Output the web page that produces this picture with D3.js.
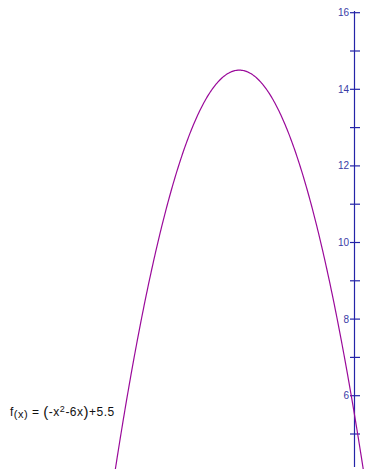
<!DOCTYPE html>
<html><head><meta charset="utf-8">
<script src="https://cdn.jsdelivr.net/npm/d3@7"></script>
<style>body{margin:0;background:#fff}svg{display:block}</style>
</head><body>
<script>
const coefficients = [-1, -6, 5.5]; // a, b, c of f(x) = a x^2 + b x + c
const majorTicks = [6, 8, 10, 12, 14, 16];
const minorTicks = [5, 7, 9, 11, 13, 15];

const W = 369, H = 469;
const svg = d3.select("body").append("svg").attr("width", W).attr("height", H);
const x = d3.scaleLinear().domain([0, -3]).range([354.5, 239.3]);
const y = d3.scaleLinear().domain([16, 6]).range([12.7, 395.7]);

const f = v => coefficients[0]*v*v + coefficients[1]*v + coefficients[2];
const xs = d3.range(-6.6, 0.6, 0.02);
svg.append("defs").append("clipPath").attr("id","c").append("rect").attr("x",0).attr("y",0).attr("width",W).attr("height",H);

const axisColor = "#2424a8";
svg.append("line").attr("x1", x(0)).attr("x2", x(0)).attr("y1", 11).attr("y2", 467)
  .attr("stroke", axisColor).attr("stroke-width", 1.2);
svg.selectAll(".mj").data(majorTicks.concat(minorTicks)).join("line")
  .attr("x1", x(0)-4.5).attr("x2", x(0)+5.5)
  .attr("y1", d => y(d)).attr("y2", d => y(d))
  .attr("stroke", axisColor).attr("stroke-width", 1.2);
svg.selectAll(".lb").data(majorTicks).join("text")
  .attr("x", x(0)-5.5).attr("y", d => y(d)+3.5)
  .attr("text-anchor","end").attr("font-family","Liberation Sans, Arial, sans-serif")
  .attr("font-size", 10).attr("fill", "#3a3aa6").text(d => d);

svg.append("path").datum(xs).attr("clip-path","url(#c)")
  .attr("d", d3.line().x(d => x(d)).y(d => y(f(d))))
  .attr("fill","none").attr("stroke","#9a0a9a").attr("stroke-width",1.2);

const t = svg.append("text").attr("x", 10).attr("y", 416)
  .attr("font-family","Liberation Sans, Arial, sans-serif").attr("font-size", 12)
  .attr("letter-spacing", 0.5).attr("fill","#111");
t.append("tspan").text("f");
t.append("tspan").attr("font-size", 11).attr("dy", 1.5).text("(x)");
t.append("tspan").attr("dy", -1.5).text(" = ");
t.append("tspan").attr("font-size", 15).attr("dy", 0.5).text("(");
t.append("tspan").attr("dy", -0.5).text("-x");
t.append("tspan").attr("font-size", 9).attr("dy", -4.5).text("2");
t.append("tspan").attr("dy", 4.5).text("-6x");
t.append("tspan").attr("font-size", 15).attr("dy", 0.5).text(")");
t.append("tspan").attr("dy", -0.5).text("+5.5");
</script>
</body></html>
